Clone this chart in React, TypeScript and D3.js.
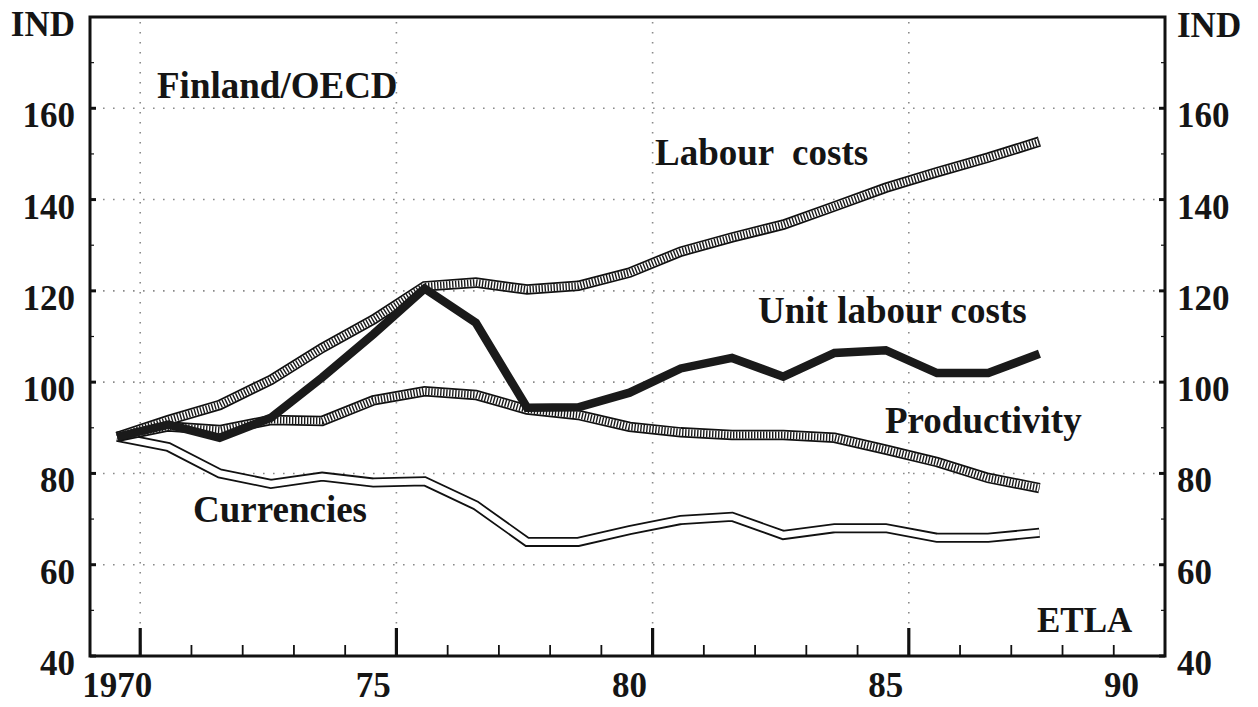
import React from "react";
import * as d3 from "d3";

const years = [1970, 1971, 1972, 1973, 1974, 1975, 1976, 1977, 1978, 1979, 1980, 1981, 1982, 1983, 1984, 1985, 1986, 1987, 1988];
const labourCosts = [88, 91.7, 95, 100.5, 107.5, 113.7, 121, 121.8, 120.3, 121.1, 124, 128.6, 131.7, 134.5, 138.5, 142.6, 146, 149.2, 152.7];
const unitLabourCosts = [88, 90.7, 87.8, 92.2, 101, 110.5, 120.5, 113, 94.4, 94.5, 97.7, 103, 105.3, 101.2, 106.4, 107, 102, 102, 106.2];
const productivity = [88, 90.3, 89.5, 91.7, 91.5, 96, 98, 97.2, 94, 92.8, 90.2, 89, 88.4, 88.4, 87.8, 85.2, 82.5, 79, 76.8];
const currencies = [88, 85.8, 80, 77.7, 79.3, 78, 78.3, 73, 65, 65, 67.6, 69.8, 70.5, 66.5, 68, 68, 65.9, 65.9, 67];

const xTickLabels = ["1970", "75", "80", "85", "90"];
const xLabelPositions = [1970, 1975, 1980, 1985, 1989.6];
const minorYears = [1970, 1971, 1972, 1973, 1974, 1975, 1976, 1977, 1978, 1979, 1980, 1981, 1982, 1983, 1984, 1985, 1986, 1987, 1988, 1989];
const yTickValues = [40, 60, 80, 100, 120, 140, 160];
const yMinorValues = [50, 70, 90, 110, 130, 150, 170];
const yGridValues = [60, 80, 100, 120, 140, 160];
const xGridValues = [1970, 1975, 1980, 1985];

const W = 1258;
const H = 707;
const left = 90, right = 1165, top = 17, bottom = 656;
const tickShift = 0.45; // ticks sit at year boundaries, data/labels at mid-year

const x = d3.scaleLinear().domain([1969.47, 1990.45]).range([left, right]);
const y = d3.scaleLinear().domain([40, 180]).range([bottom, top]);

const FONT = "'Liberation Serif', 'Times New Roman', serif";

function pathOf(vals: number[]) {
  const line = d3
    .line<number>()
    .x((_, i) => x(years[i]))
    .y((v) => y(v));
  return line(vals) || "";
}

const Hatched = ({ vals }: { vals: number[] }) => {
  const d = pathOf(vals);
  return (
    <g fill="none" strokeLinejoin="miter" strokeMiterlimit={4}>
      <path d={d} stroke="#111" strokeWidth={10.5} />
      <path d={d} stroke="#fff" strokeWidth={7} />
      <path d={d} stroke="#1a1a1a" strokeWidth={7} strokeDasharray="1.4 1.6" />
    </g>
  );
};

const DoubleLine = ({ vals }: { vals: number[] }) => {
  const d = pathOf(vals);
  return (
    <g fill="none" strokeLinejoin="miter">
      <path d={d} stroke="#111" strokeWidth={10} />
      <path d={d} stroke="#fff" strokeWidth={6.4} />
    </g>
  );
};

export default function App() {
  const textStyle = { fontFamily: FONT, fontWeight: 700, fill: "#151515" } as const;
  return (
    <div style={{ position: "fixed", left: 0, top: 0, width: W, height: H, background: "#fff" }}>
      <svg width={W} height={H} viewBox={`0 0 ${W} ${H}`}>
        <rect x={0} y={0} width={W} height={H} fill="#fff" />
        {/* grid */}
        <g stroke="#8a8a8a" strokeWidth={1.6} strokeDasharray="1.6 8.4">
          {yGridValues.map((v) => (
            <line key={"gy" + v} x1={left + 3} x2={right - 3} y1={y(v)} y2={y(v)} />
          ))}
          {xGridValues.map((v) => (
            <line key={"gx" + v} x1={x(v + tickShift)} x2={x(v + tickShift)} y1={top + 5} y2={bottom - 30} />
          ))}
        </g>

        {/* series */}
        <DoubleLine vals={currencies} />
        <Hatched vals={productivity} />
        <Hatched vals={labourCosts} />
        <path d={pathOf(unitLabourCosts)} fill="none" stroke="#1a1a1a" strokeWidth={8.5} strokeLinejoin="miter" />

        {/* frame */}
        <rect x={left} y={top} width={right - left} height={bottom - top} fill="none" stroke="#111" strokeWidth={3} />

        {/* ticks */}
        <g stroke="#111">
          {yTickValues.map((v) => (
            <g key={"yt" + v}>
              <line x1={left} x2={left + 6} y1={y(v)} y2={y(v)} strokeWidth={3} />
              <line x1={right} x2={right - 6} y1={y(v)} y2={y(v)} strokeWidth={3} />
            </g>
          ))}
          {yMinorValues.map((v) => (
            <g key={"ym" + v}>
              <line x1={left} x2={left + 4} y1={y(v)} y2={y(v)} strokeWidth={1.2} />
              <line x1={right} x2={right - 4} y1={y(v)} y2={y(v)} strokeWidth={1.2} />
            </g>
          ))}
          {minorYears.map((v) => (
            <line key={"xm" + v} x1={x(v + tickShift)} x2={x(v + tickShift)} y1={bottom} y2={bottom - 11} strokeWidth={1.8} />
          ))}
          {xGridValues.map((v) => (
            <line key={"xt" + v} x1={x(v + tickShift)} x2={x(v + tickShift)} y1={bottom} y2={bottom - 28} strokeWidth={3.2} />
          ))}
        </g>

        {/* axis labels */}
        <g style={textStyle} fontSize={35}>
          {yTickValues.map((v) => (
            <text key={"yl" + v} x={75} y={y(v) + 19} textAnchor="end">{v}</text>
          ))}
          {yTickValues.map((v) => (
            <text key={"yr" + v} x={1177} y={y(v) + 19} textAnchor="start">{v}</text>
          ))}
          <text x={75} y={36} textAnchor="end">IND</text>
          <text x={1177} y={37} textAnchor="start">IND</text>
          {xLabelPositions.map((v, i) => (
            <text key={"xl" + i} x={x(v)} y={697} textAnchor="middle">{xTickLabels[i]}</text>
          ))}
        </g>

        {/* annotations */}
        <g style={textStyle} fontSize={37}>
          <text x={157} y={98}>Finland/OECD</text>
          <text x={655} y={165} style={{ whiteSpace: "pre" }}>{"Labour  costs"}</text>
          <text x={758} y={323}>Unit labour costs</text>
          <text x={885} y={433}>Productivity</text>
          <text x={193} y={522}>Currencies</text>
        </g>
        <text x={1037} y={632} style={textStyle} fontSize={35}>ETLA</text>
      </svg>
    </div>
  );
}
